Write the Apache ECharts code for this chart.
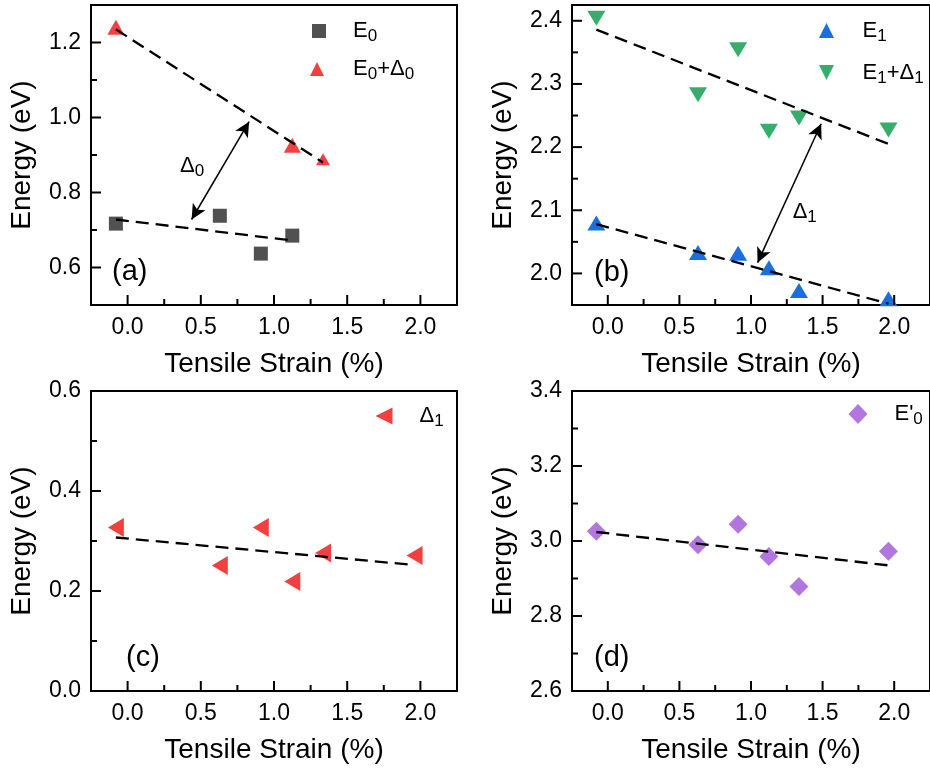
<!DOCTYPE html>
<html><head><meta charset="utf-8">
<script src="https://cdn.jsdelivr.net/npm/echarts@6/dist/echarts.min.js"></script>
<style>html,body{margin:0;padding:0;background:#fff}#c{width:930px;height:768px}</style>
</head><body><div id="c"></div>
<script>
// ---------- data ----------
const strain = [-0.08, 0.63, 0.91, 1.125, 1.335, 1.96];
const strainE0 = [-0.08, 0.63, 0.91, 1.125];
const E0 = [0.717, 0.738, 0.637, 0.685];
const strainE0D0 = [-0.08, 1.125, 1.335];
const E0D0 = [1.241, 0.926, 0.889];
const E1 = [2.080, 2.033, 2.032, 2.009, 1.973, 1.960];
const E1D1 = [2.404, 2.283, 2.354, 2.225, 2.246, 2.227];
const D1 = [0.327, 0.251, 0.327, 0.219, 0.276, 0.271];
const Ep0 = [3.026, 2.990, 3.045, 2.959, 2.879, 2.973];
// dashed linear fits (end points)
const fitE0 = [[-0.08, 0.728], [1.125, 0.672]];
const fitE0D0 = [[-0.08, 1.235], [1.335, 0.880]];
const fitE1 = [[-0.08, 2.078], [1.96, 1.952]];
const fitE1D1 = [[-0.08, 2.386], [1.96, 2.205]];
const fitD1 = [[-0.08, 0.307], [1.96, 0.252]];
const fitEp0 = [[-0.08, 3.024], [1.96, 2.935]];
// double arrows (gap markers)
const arrowD0 = [[0.437, 0.728], [0.83, 0.989]];
const arrowD1 = [[1.046, 2.017], [1.49, 2.237]];
// tick labels
const xMajor = [0, 0.5, 1.0, 1.5, 2.0];
const xMinor = [0.25, 0.75, 1.25, 1.75];
const yMajorA = [0.6, 0.8, 1.0, 1.2], yMinorA = [0.7, 0.9, 1.1];
const yMajorB = [2.0, 2.1, 2.2, 2.3, 2.4], yMinorB = [2.05, 2.15, 2.25, 2.35];
const yMajorC = [0.0, 0.2, 0.4, 0.6], yMinorC = [0.1, 0.3, 0.5];
const yMajorD = [2.6, 2.8, 3.0, 3.2, 3.4], yMinorD = [2.7, 2.9, 3.1, 3.3];

// ---------- styling ----------
const FONT = 'Liberation Sans, Arial, sans-serif';
const C = {gray:'#515151', red:'#F14040', blue:'#1A6FDF', green:'#37AD6B', purple:'#B177DE'};
const TRI_UP = 'path://M5,0 L10,10 L0,10 Z';
const TRI_DOWN = 'path://M0,0 L10,0 L5,10 Z';
const TRI_LEFT = 'path://M0,5 L10,0 L10,10 Z';
const X_MIN = -0.25, X_MAX = 2.25;

const boxes = [
  {left: 91, top: 5, width: 366, height: 300},
  {left: 572, top: 5, width: 366, height: 300},
  {left: 91, top: 391, width: 366, height: 300},
  {left: 572, top: 391, width: 366, height: 300}
];
const yRanges = [[0.5, 1.3], [1.95, 2.425], [0, 0.6], [2.6, 3.4]];
const yMaj = [yMajorA, yMajorB, yMajorC, yMajorD];
const yMin = [yMinorA, yMinorB, yMinorC, yMinorD];

const gridList = [], xAxes = [], yAxes = [];
boxes.forEach((g, i) => {
  gridList.push(Object.assign({show: true, borderColor: '#000', borderWidth: 2, backgroundColor: 'transparent'}, g));
  xAxes.push({
    gridIndex: i, type: 'value', position: 'bottom', min: X_MIN, max: X_MAX,
    axisLine: {show: true, onZero: false, lineStyle: {color: '#000', width: 2}},
    axisTick: {show: false},
    axisLabel: {show: true, customValues: xMajor, formatter: v => v.toFixed(1), fontSize: 23, color: '#000', fontFamily: FONT, margin: 11},
    splitLine: {show: false},
    name: 'Tensile Strain (%)', nameLocation: 'middle', nameGap: 45,
    nameTextStyle: {fontSize: 28, color: '#000', fontFamily: FONT}
  });
  yAxes.push({
    gridIndex: i, type: 'value', position: 'left', min: yRanges[i][0], max: yRanges[i][1],
    axisLine: {show: true, onZero: false, lineStyle: {color: '#000', width: 2}},
    axisTick: {show: false},
    axisLabel: {show: true, customValues: yMaj[i], formatter: v => v.toFixed(1), fontSize: 23, color: '#000', fontFamily: FONT, margin: 10},
    splitLine: {show: false},
    name: 'Energy (eV)', nameLocation: 'middle', nameGap: 55,
    nameTextStyle: {fontSize: 28, color: '#000', fontFamily: FONT}
  });
});

const zip = (xs, ys) => xs.map((x, k) => [x, ys[k]]);

function scatter(name, gi, data, symbol, size, color) {
  return {name, type: 'scatter', xAxisIndex: gi, yAxisIndex: gi, data,
    symbol, symbolSize: size, symbolKeepAspect: false, itemStyle: {color, opacity: 1}, z: 3, silent: true};
}
function fit(gi, data) {
  return {type: 'line', xAxisIndex: gi, yAxisIndex: gi, data, symbol: 'none', silent: true,
    lineStyle: {color: '#000', width: 2.3, type: [13, 7]}, z: 5};
}
function arrow(gi, pts) {
  return {type: 'line', xAxisIndex: gi, yAxisIndex: gi, data: [], silent: true, z: 6,
    markLine: {silent: true, symbol: ['arrow', 'arrow'], symbolSize: [11, 15], label: {show: false},
      lineStyle: {color: '#000', width: 1.5, type: 'solid'}, animation: false,
      data: [[{coord: pts[0]}, {coord: pts[1]}]]}};
}

const E0pts = zip(strainE0, E0);
const E0D0pts = zip(strainE0D0, E0D0).map((p, k) => k === 2 ? {value: p, symbolSize: [14, 12]} : p);

const series = [
  scatter('E0', 0, E0pts, 'rect', 14, C.gray),
  scatter('E0+Δ0', 0, E0D0pts, TRI_UP, [17, 15], C.red),
  fit(0, fitE0), fit(0, fitE0D0), arrow(0, arrowD0),
  scatter('E1', 1, zip(strain, E1), TRI_UP, [18, 15], C.blue),
  scatter('E1+Δ1', 1, zip(strain, E1D1), TRI_DOWN, [18, 15], C.green),
  fit(1, fitE1), fit(1, fitE1D1), arrow(1, arrowD1),
  scatter('Δ1', 2, zip(strain, D1), TRI_LEFT, [16, 19], C.red),
  fit(2, fitD1),
  scatter("E'0", 3, zip(strain, Ep0), 'diamond', 19, C.purple),
  fit(3, fitEp0)
];

const rich = {
  sp: {width: 22},
  n: {fontSize: 22, lineHeight: 28, fontFamily: FONT, color: '#000'},
  s: {fontSize: 17, lineHeight: 17, verticalAlign: 'bottom', fontFamily: FONT, color: '#000'}
};
const legendText = {
  'E0': '{sp|}{n|E}{s|0}',
  'E0+Δ0': '{sp|}{n|E}{s|0}{n|+Δ}{s|0}',
  'E1': '{sp|}{n|E}{s|1}',
  'E1+Δ1': '{sp|}{n|E}{s|1}{n|+Δ}{s|1}',
  'Δ1': '{sp|}{n|Δ}{s|1}',
  "E'0": "{sp|}{n|E'}{s|0}"
};
function legend(name, icon, w, h, cx, cy) {
  return {data: [{name, icon}], left: cx - w / 2, top: cy - h / 2, padding: 0,
    itemWidth: w, itemHeight: h, selectedMode: false, orient: 'vertical',
    formatter: n => legendText[n], textStyle: {rich, fontFamily: FONT}};
}
const legends = [
  legend('E0', 'rect', 14, 14, 319, 27),
  legend('E0+Δ0', TRI_UP, 18, 14, 319, 65),
  legend('E1', TRI_UP, 18, 15, 828, 27),
  legend('E1+Δ1', TRI_DOWN, 18, 15, 828, 69),
  legend('Δ1', TRI_LEFT, 17, 20, 384, 415),
  legend("E'0", 'diamond', 19, 20, 858, 413)
];

function ptitle(text, left, top) {
  return {text, left, top, padding: 0,
    textStyle: {fontSize: 29, fontWeight: 'normal', color: '#000', fontFamily: FONT}};
}

const option = {
  animation: false,
  backgroundColor: '#fff',
  title: [ptitle('(a)', 112, 257), ptitle('(b)', 594, 258), ptitle('(c)', 126, 643), ptitle('(d)', 594, 643)],
  grid: gridList,
  xAxis: xAxes,
  yAxis: yAxes,
  legend: legends,
  series
};
const chart = echarts.init(document.getElementById('c'), null, {renderer: 'canvas'});
chart.setOption(option);

// inward major/minor ticks and gap labels, positioned through each panel's own axes
const graphics = [];
const px = (gi, pt) => chart.convertToPixel({xAxisIndex: gi, yAxisIndex: gi}, pt);
const tickLine = (x1, y1, x2, y2) => ({type: 'line', silent: true, z: 100,
  shape: {x1, y1, x2, y2}, style: {stroke: '#000', lineWidth: 2}});
for (let gi = 0; gi < 4; gi++) {
  const y0 = yRanges[gi][0];
  const ticksX = xMajor.map(v => [v, 10]).concat(xMinor.map(v => [v, 6]));
  ticksX.forEach(([v, len]) => {
    const p = px(gi, [v, y0]);
    graphics.push(tickLine(p[0], p[1], p[0], p[1] - len));
  });
  const ticksY = yMaj[gi].map(v => [v, 10]).concat(yMin[gi].map(v => [v, 6]));
  ticksY.forEach(([v, len]) => {
    const p = px(gi, [X_MIN, v]);
    graphics.push(tickLine(p[0], p[1], p[0] + len, p[1]));
  });
}
const annRich = {
  n: {fontSize: 22, fontFamily: FONT, fill: '#000', lineHeight: 28},
  s: {fontSize: 17, fontFamily: FONT, fill: '#000', lineHeight: 17, verticalAlign: 'bottom'}
};
const annots = [[0, [0.44, 0.87], '{n|Δ}{s|0}'], [1, [1.375, 2.098], '{n|Δ}{s|1}']];
annots.forEach(([gi, pt, txt]) => {
  const p = px(gi, pt);
  graphics.push({type: 'text', x: p[0], y: p[1], silent: true, z: 100,
    style: {text: txt, align: 'center', verticalAlign: 'middle', fill: '#000', font: '22px ' + FONT, rich: annRich}});
});
chart.setOption({graphic: graphics});
</script>
</body></html>
